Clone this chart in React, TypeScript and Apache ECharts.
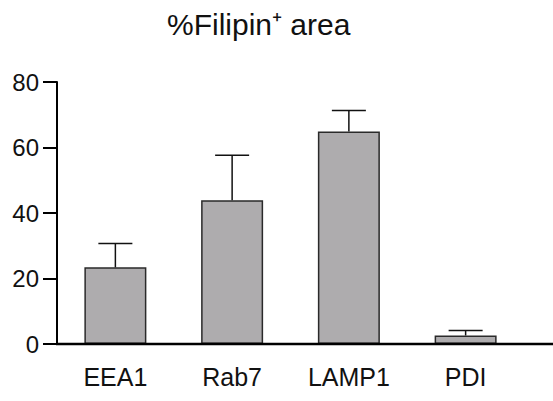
import React, { useEffect, useRef } from "react";
import * as echarts from "echarts";

const categories = ["EEA1", "Rab7", "LAMP1", "PDI"];
const means = [23.4, 43.9, 64.9, 2.6];
const errors = [7.3, 13.7, 6.4, 1.5];
const yTicks = { min: 0, max: 80, interval: 20 };
const titleText = "%Filipin\u207A area";

const FONT = "'Liberation Sans', Arial, Helvetica, sans-serif";

export default function App() {
  const ref = useRef<HTMLDivElement>(null);
  useEffect(() => {
    if (!ref.current) return;
    const chart = echarts.init(ref.current, null, { renderer: "svg" });
    const grid = { left: 57, right: 29, top: 82, bottom: 57 };
    chart.setOption({
      animation: false,
      backgroundColor: "#ffffff",
      title: {
        text: titleText,
        left: 162,
        top: 4,
        textStyle: { fontFamily: FONT, fontSize: 30, fontWeight: "normal", color: "#111" },
      },
      grid,
      xAxis: {
        type: "category",
        data: categories,
        axisLine: { show: false },
        axisTick: { show: false },
        axisLabel: { margin: 20, fontFamily: FONT, fontSize: 25, color: "#111" },
        splitLine: { show: false },
      },
      yAxis: {
        type: "value",
        min: yTicks.min,
        max: yTicks.max,
        interval: yTicks.interval,
        axisLine: { show: true, lineStyle: { color: "#000", width: 2 } },
        axisTick: { show: true, length: 14, lineStyle: { color: "#000", width: 2 } },
        axisLabel: { margin: 18, fontFamily: FONT, fontSize: 24, color: "#111" },
        splitLine: { show: false },
      },
      series: [
        {
          type: "bar",
          data: means,
          barWidth: 62,
          itemStyle: { color: "#aeacae", borderColor: "#2a2a2a", borderWidth: 1.5 },
          z: 2,
        },
        {
          type: "custom",
          data: means.map((m, i) => [i, m, errors[i]]),
          z: 3,
          renderItem: (params: any, api: any) => {
            const i = api.value(0);
            const m = api.value(1);
            const e = api.value(2);
            const base = api.coord([i, m]);
            const top = api.coord([i, m + e]);
            const half = 17;
            return {
              type: "group",
              children: [
                {
                  type: "line",
                  shape: { x1: base[0], y1: base[1], x2: top[0], y2: top[1] },
                  style: { stroke: "#111", lineWidth: 1.5 },
                },
                {
                  type: "line",
                  shape: { x1: top[0] - half, y1: top[1], x2: top[0] + half, y2: top[1] },
                  style: { stroke: "#111", lineWidth: 1.5 },
                },
              ],
            };
          },
        },
      ],
    });
    const origin = chart.convertToPixel({ gridIndex: 0 }, [0, 0]) as number[];
    const width = chart.getWidth();
    chart.setOption({
      graphic: [
        {
          type: "line",
          z: 10,
          shape: { x1: grid.left - 1, y1: origin[1], x2: width, y2: origin[1] },
          style: { stroke: "#000", lineWidth: 2.5 },
        },
      ],
    });
    return () => chart.dispose();
  }, []);
  return <div ref={ref} style={{ width: 553, height: 401, position: "fixed", left: 0, top: 0 }} />;
}
